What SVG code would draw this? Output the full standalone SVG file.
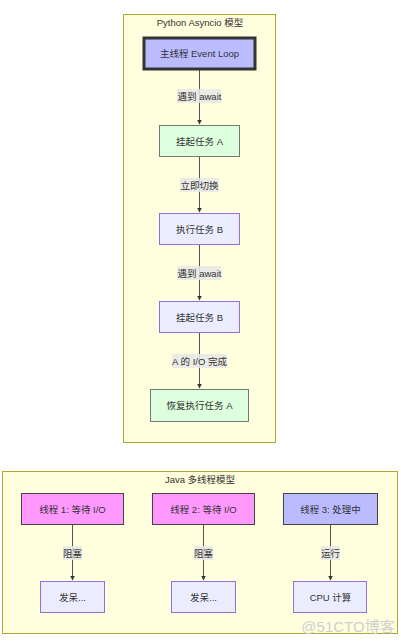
<svg xmlns="http://www.w3.org/2000/svg" width="401" height="643" viewBox="0 0 401 643">
<defs>
<marker id="arr" viewBox="0 0 10 10" refX="9" refY="5" markerWidth="5" markerHeight="5" orient="auto"><path d="M0,0 L10,5 L0,10 z" fill="#333"/></marker>
<style>
text{font-family:"Liberation Sans","Noto Sans CJK SC",sans-serif;font-size:9.5px;fill:#333;text-anchor:middle;dominant-baseline:central}
.cl{fill:#ffffde;stroke:#aaaa33;stroke-width:1}
.def{fill:#ececff;stroke:#9370db;stroke-width:1}
.grn{fill:#ddffdd;stroke:#777;stroke-width:1}
.main{fill:#bbbbff;stroke:#333;stroke-width:3}
.pink{fill:#ff99ff;stroke:#444;stroke-width:1}
.blue{fill:#bbbbff;stroke:#444;stroke-width:1}
.e{stroke:#555;stroke-width:1;fill:none;marker-end:url(#arr)}
.lb{fill:#e8e8e8;opacity:0.85}
</style>
</defs>
<rect width="401" height="643" fill="#fff"/>
<g id="cluster-python"><rect class="cl" x="123.5" y="14.5" width="152" height="428"/><text x="200" y="22">Python Asyncio 模型</text></g>
<g id="cluster-java"><rect class="cl" x="2.5" y="471.5" width="395" height="162"/><text x="200" y="479">Java 多线程模型</text></g>
<g id="connectors">
<path class="e" d="M199.5,69 V124"/>
<path class="e" d="M199.5,156 V212"/>
<path class="e" d="M199.5,244 V300"/>
<path class="e" d="M199.5,333 V388"/>
<path class="e" d="M72.5,524 V580"/>
<path class="e" d="M203.5,524 V580"/>
<path class="e" d="M330.5,524 V580"/>
<rect class="lb" x="177" y="89" width="44" height="14"/><text x="199.5" y="96">遇到 await</text>
<rect class="lb" x="180" y="178" width="39" height="14"/><text x="199.5" y="185">立即切换</text>
<rect class="lb" x="177" y="266" width="44" height="14"/><text x="199.5" y="273">遇到 await</text>
<rect class="lb" x="172" y="354" width="55" height="14"/><text x="199.5" y="361">A 的 I/O 完成</text>
<rect class="lb" x="63" y="546" width="19" height="14"/><text x="72.5" y="553">阻塞</text>
<rect class="lb" x="194" y="546" width="19" height="14"/><text x="203.5" y="553">阻塞</text>
<rect class="lb" x="321" y="546" width="19" height="14"/><text x="330.5" y="553">运行</text>
</g>
<g id="main"><rect class="main" x="144" y="38" width="111" height="31"/><text x="199.5" y="53">主线程 Event Loop</text></g>
<g id="suspendA"><rect class="grn" x="159.5" y="125.5" width="80" height="31"/><text x="199.5" y="141">挂起任务 A</text></g>
<g id="runB"><rect class="def" x="159.5" y="213.5" width="80" height="31"/><text x="199.5" y="229">执行任务 B</text></g>
<g id="suspendB"><rect class="def" x="159.5" y="301.5" width="80" height="31"/><text x="199.5" y="317">挂起任务 B</text></g>
<g id="resumeA"><rect class="grn" x="150.5" y="389.5" width="98" height="32"/><text x="199.5" y="405">恢复执行任务 A</text></g>
<g id="t1"><rect class="pink" x="21.5" y="493.5" width="102" height="31"/><text x="72.5" y="509">线程 1: 等待 I/O</text></g>
<g id="t2"><rect class="pink" x="152.5" y="493.5" width="102" height="31"/><text x="203.5" y="509">线程 2: 等待 I/O</text></g>
<g id="t3"><rect class="blue" x="283.5" y="493.5" width="94" height="31"/><text x="330.5" y="509">线程 3: 处理中</text></g>
<g id="idle1"><rect class="def" x="40.5" y="581.5" width="64" height="31"/><text x="72.5" y="597">发呆...</text></g>
<g id="idle2"><rect class="def" x="171.5" y="581.5" width="64" height="31"/><text x="203.5" y="597">发呆...</text></g>
<g id="cpu"><rect class="def" x="293.5" y="581.5" width="73" height="31"/><text x="330.5" y="597">CPU 计算</text></g>
<text x="348" y="626" style="font-size:15px;fill:#d0d0d0">@51CTO博客</text>
</svg>
